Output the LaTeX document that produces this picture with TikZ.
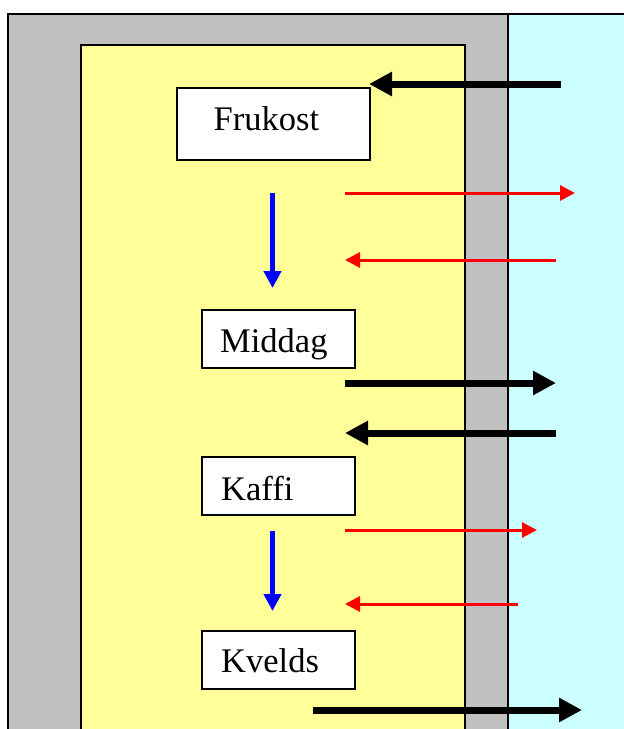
\documentclass[tikz,border=0pt]{standalone}
\usepackage{fontspec}
\setmainfont{Liberation Serif}
\usetikzlibrary{arrows.meta}
\definecolor{wallgray}{HTML}{C0C0C0}
\definecolor{roomyellow}{HTML}{FFFF99}
\definecolor{outcyan}{HTML}{CCFFFF}
\tikzset{
  mealbox/.style={draw=black, line width=1.5pt, fill=white, inner sep=0pt, anchor=north west},
  meallabel/.style={anchor=base west, inner sep=0pt, font=\fontsize{34.5}{40}\selectfont},
  bigarrow/.style={line width=7pt, -{Triangle[length=23pt,width=23pt]}},
  redarrow/.style={red, line width=3pt, -{Triangle[length=15pt,width=15pt]}},
  bluearrow/.style={blue, line width=5pt, -{Triangle[length=17pt,width=17pt]}},
}
\begin{document}
\begin{tikzpicture}[x=1pt,y=-1pt]
\useasboundingbox (0,0) rectangle (624,729);
% regions
\fill[wallgray] (8,14) rectangle (508,729);
\fill[outcyan] (508,14) rectangle (624,729);
\fill[roomyellow] (81,45) rectangle (465,729);
\draw[line width=2pt] (8,729) -- (8,14) -- (624,14);
\draw[line width=2pt] (508,14) -- (508,729);
\draw[line width=1.5pt] (81,729) -- (81,45) -- (465,45) -- (465,729);
% boxes
\node[mealbox, minimum width=193pt, minimum height=72pt] (frukost) at (176,87) {};
\node[mealbox, minimum width=153pt, minimum height=58pt] (middag) at (201,309) {};
\node[mealbox, minimum width=153pt, minimum height=58pt] (kaffi) at (201,456) {};
\node[mealbox, minimum width=153pt, minimum height=58pt] (kvelds) at (201,630) {};
\node[meallabel] (frukostT) at (213.5,130) {Frukost};
\node[meallabel] (middagT) at (220,352.3) {Middag};
\node[meallabel] (kaffiT) at (221,500) {Kaffi};
\node[meallabel] (kveldsT) at (221,672.3) {Kvelds};
% arrow end points
\coordinate (a1s) at (561,84);
\coordinate (a1e) at (369,84);
\coordinate (r1s) at (345,193);
\coordinate (r1e) at (575,193);
\coordinate (r2s) at (556,260);
\coordinate (r2e) at (345,260);
\coordinate (b1s) at (272.5,193);
\coordinate (b1e) at (272.5,288);
\coordinate (a2s) at (345,383);
\coordinate (a2e) at (556,383);
\coordinate (a3s) at (556,433);
\coordinate (a3e) at (345,433);
\coordinate (r3s) at (345,530);
\coordinate (r3e) at (537,530);
\coordinate (b2s) at (272.5,531);
\coordinate (b2e) at (272.5,611);
\coordinate (r4s) at (518,604);
\coordinate (r4e) at (345,604);
\coordinate (a4s) at (313,710);
\coordinate (a4e) at (582,710);
% arrows
\draw[bigarrow] (a1s) -- (a1e);
\draw[redarrow] (r1s) -- (r1e);
\draw[redarrow] (r2s) -- (r2e);
\draw[bluearrow] (b1s) -- (b1e);
\draw[bigarrow] (a2s) -- (a2e);
\draw[bigarrow] (a3s) -- (a3e);
\draw[redarrow] (r3s) -- (r3e);
\draw[bluearrow] (b2s) -- (b2e);
\draw[redarrow] (r4s) -- (r4e);
\draw[bigarrow] (a4s) -- (a4e);
\end{tikzpicture}
\end{document}
